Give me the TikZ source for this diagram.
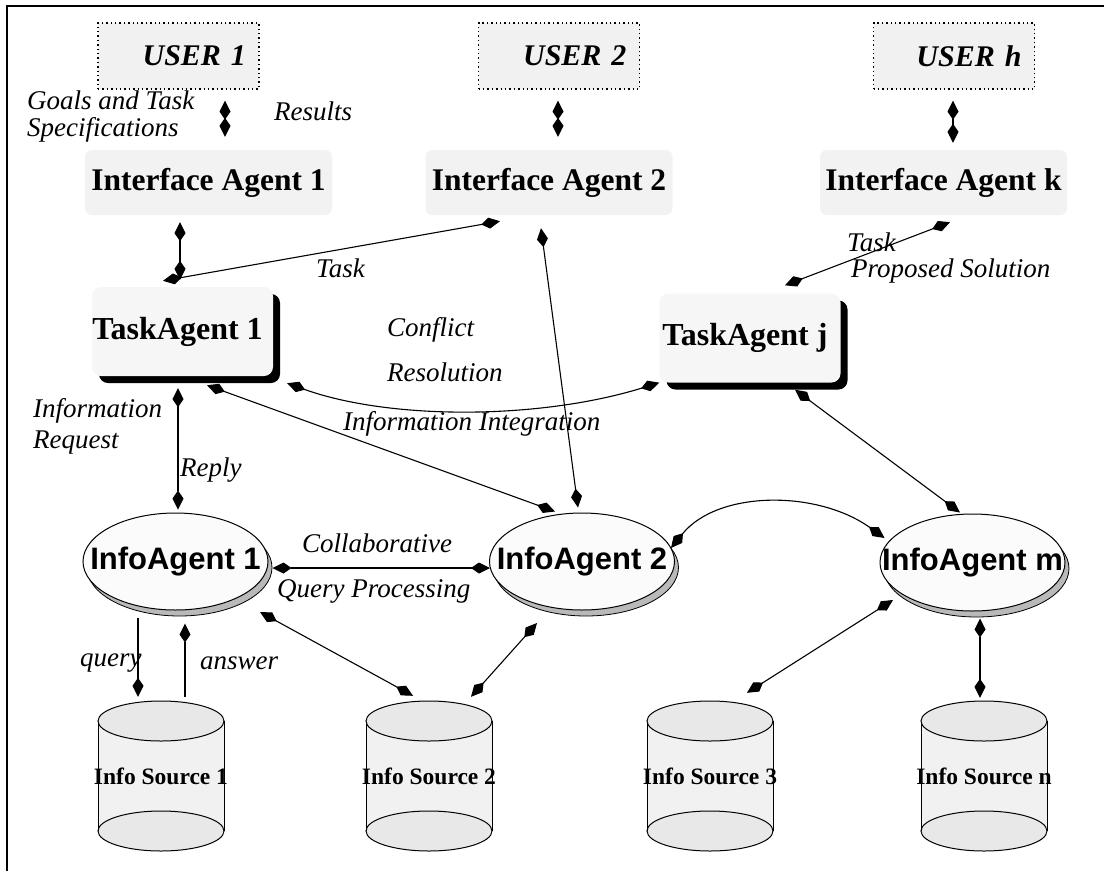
\documentclass[tikz,border=0pt]{standalone}
\usepackage{fontspec}
\setmainfont{Liberation Serif}
\newfontfamily\sansb{Liberation Sans}
\usetikzlibrary{arrows.meta,shapes.geometric,shadows,calc}
\newcommand\infocyl[3]{%
  \fill[gray!11] (#2-63,721) rectangle (#2+63,831);
  \filldraw[fill=gray!18,line width=1pt] (#2,831) ellipse[x radius=63,y radius=20];
  \draw[line width=1pt] (#2-63,721) -- (#2-63,831) (#2+63,721) -- (#2+63,831);
  \filldraw[fill=gray!18,line width=1pt] (#2,721) ellipse[x radius=63,y radius=20];
  \node[srcbox] (#1) at (#2,776) {#3};
}
\begin{document}
\begin{tikzpicture}[x=1pt,y=-1pt,
  >={Kite[length=19pt,width=11pt,inset=8pt]},
  conn/.style={line width=1.1pt,<->},
  single/.style={line width=1.1pt,->},
  userbox/.style={draw,line width=1.3pt,dash pattern=on 1.4pt off 3pt,fill=gray!11,
     minimum width=161pt,minimum height=66pt,text width=135pt,align=right,inner xsep=13pt,
     font=\fontsize{30}{32}\selectfont\bfseries\itshape},
  iabox/.style={fill=gray!10,rounded corners=7pt,minimum width=247pt,minimum height=65pt,
     inner sep=0pt,font=\fontsize{31.5}{33}\selectfont\bfseries},
  tabox/.style={fill=gray!7,rounded corners=9pt,minimum width=181pt,minimum height=89pt,
     inner sep=0pt,font=\fontsize{32}{34}\selectfont\bfseries,
     drop shadow={shadow xshift=7pt,shadow yshift=-7pt,fill=black,opacity=1}},
  gabox/.style={ellipse,draw,line width=1pt,fill=gray!3,minimum width=185pt,minimum height=97pt,
     inner sep=0pt,font=\sansb\fontsize{31}{33}\selectfont\bfseries,
     drop shadow={shadow xshift=4pt,shadow yshift=-6pt,fill=gray!55,draw=black,opacity=1,line width=0.8pt}},
  srcbox/.style={minimum width=127pt,minimum height=150pt,inner sep=0pt,
     font=\fontsize{23.5}{25}\selectfont\bfseries},
  lbl/.style={font=\fontsize{27}{29}\selectfont\itshape,anchor=west,inner sep=0pt}
]
\useasboundingbox (0,0) rectangle (1104,871);
\fill[white] (0,0) rectangle (1104,871);
\draw[line width=2pt] (7,871) -- (7,6) -- (1104,6);

% users
\node[userbox] (u1) at (178.5,56) {USER 1};
\node[userbox] (u2) at (559,56) {USER 2};
\node[userbox] (uh) at (954,56) {USER h};

% interface agents
\node[iabox] (ia1) at (208.5,182.5) {Interface Agent 1};
\node[iabox] (ia2) at (549,182.5) {Interface Agent 2};
\node[iabox] (iak) at (943.5,182.5) {Interface Agent k};

% task agents
\node[tabox] (ta1) at (182.5,331.5) {\makebox[0pt]{\hspace*{-10pt}TaskAgent 1}};
\node[tabox] (taj) at (750,338) {\makebox[0pt]{\hspace*{-10pt}TaskAgent j}};

% info agents
\node[gabox] (g1) at (175.5,561.5) {\makebox[0pt]{InfoAgent 1}};
\node[gabox] (g2) at (582,561.5) {\makebox[0pt]{InfoAgent 2}};
\node[gabox] (gm) at (972.5,562.5) {\makebox[0pt]{InfoAgent m}};

% sources
\infocyl{s1}{161}{Info Source 1}
\infocyl{s2}{429}{Info Source 2}
\infocyl{s3}{710}{Info Source 3}
\infocyl{sn}{984}{Info Source n}

% connectors
\draw[conn] ($(u1.south)+(46.5,11)$) -- ($(ia1.north)+(16.5,-13)$);
\draw[conn] ($(u2.south)+(-1,11)$) -- ($(ia2.north)+(9,-13)$);
\draw[conn] ($(uh.south)+(-1,11)$) -- ($(iak.north)+(9.5,-7)$);
\draw[conn] ($(ia1.south)+(-28.5,7)$) -- ($(ta1.north)+(-2.5,-7)$);
\draw[conn] ($(ta1.north)+(-19.5,-6)$) -- ($(ia2.south)+(-49,6)$);
\draw[conn] ($(iak.south)+(6.5,7)$) -- ($(taj.north)+(35,-8)$);
\draw[conn] ($(ia2.south)+(-8,13)$) -- ($(g2.north)+(-4,-5)$);
\draw[conn] ($(ta1.south east)+(14,7)$) .. controls +(103,37) and +(-120,37) .. (taj.south west);
\draw[conn] ($(ta1.south)+(24.5,9)$) -- ($(g2.north)+(-27,-1)$);
\draw[conn] ($(ta1.south)+(-4.5,12)$) -- ($(g1.north)+(2.5,-3)$);
\draw[conn] ($(taj.south)+(45,7)$) -- ($(gm.north)+(-12.5,-1)$);
\draw[conn] ($(g2.east)+(-4,-13.5)$) .. controls +(47,-58) and +(-67,-48) .. ($(gm.west)+(5,-24.5)$);
\draw[conn] ($(g1.east)+(4,6.5)$) -- ($(g2.west)+(1,6.5)$);
\draw[conn] ($(g1.center)+(84.5,50.5)$) -- ($(s2.north)+(-16,-5)$);
\draw[conn] ($(s2.north)+(42,-4)$) -- ($(g2.center)+(-45,61.5)$);
\draw[conn] ($(s3.north)+(37,-8)$) -- ($(gm.center)+(-79.5,37.5)$);
\draw[conn] ($(gm.south)+(7.5,7)$) -- ($(sn.north)+(-4,-3)$);
\draw[single] ($(g1.south)+(-37.5,7)$) -- ($(s1.north)+(-23,-4)$);
\draw[single] ($(s1.north)+(24,-4)$) -- ($(g1.south)+(9.5,13)$);

% labels
\node[lbl] (lgoals) at (27,100) {Goals and Task};
\node[lbl] (lspec) at (27,130) {Specifications};
\node[lbl] (lres) at (274,111) {Results};
\node[lbl] (ltask1) at (316,268) {Task};
\node[lbl] (ltask2) at (847,242) {Task};
\node[lbl] (lprop) at (851,271) {Proposed Solution};
\node[lbl] (lconf) at (387,330) {Conflict};
\node[lbl] (lresol) at (387,372) {Resolution};
\node[lbl] (linteg) at (343,424) {Information Integration};
\node[lbl] (linfo) at (33,411) {Information};
\node[lbl] (lreq) at (33,443) {Request};
\node[lbl] (lreply) at (180,470) {Reply};
\node[lbl] (lcoll) at (302,543) {Collaborative};
\node[lbl] (lqp) at (277,591) {Query Processing};
\node[lbl] (lq) at (80,663) {query};
\node[lbl] (lans) at (200,663) {answer};
\end{tikzpicture}
\end{document}
